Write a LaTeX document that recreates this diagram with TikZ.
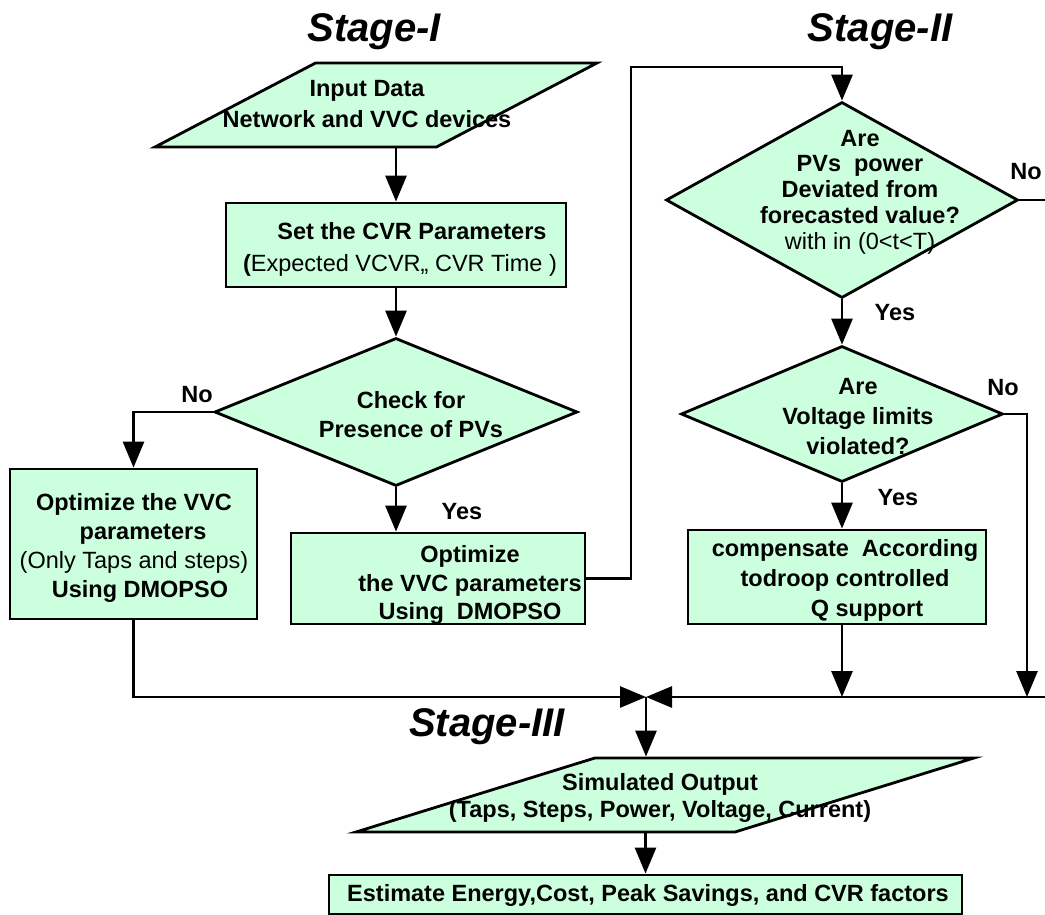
\documentclass[tikz,border=0pt]{standalone}
\usepackage{fontspec}
\setmainfont{Liberation Sans}
\usetikzlibrary{shapes.geometric,arrows.meta}
\definecolor{mint}{RGB}{204,255,222}
\begin{document}
\begin{tikzpicture}[x=1pt,y=-1pt,
    blk/.style={draw,line width=2.8pt,fill=mint,inner sep=0pt},
    dec/.style={diamond,draw,line width=2.8pt,fill=mint,inner sep=0pt},
    io/.style={trapezium,trapezium stretches=true,draw,line width=2.8pt,fill=mint,inner sep=2pt},
    txt/.style={align=center,inner sep=0pt,font=\fontsize{23.5}{29}\selectfont\bfseries},
    lbl/.style={inner sep=0pt,font=\fontsize{23.5}{28}\selectfont\bfseries},
    stagetitle/.style={inner sep=0pt,font=\fontsize{40}{44}\selectfont\bfseries\itshape},
    ln/.style={line width=2.8pt},
    arr/.style={line width=2.8pt,-{Triangle[length=26pt,width=21pt]}}]
    \useasboundingbox (0,0) rectangle (1045,915);

    % Stage I
    \node[stagetitle] (stgone) at (374,32) {Stage-I};
    \node[io, minimum width=442, minimum height=84, trapezium left angle=37, trapezium right angle=143] (input) at (376,105) {};
    \node[txt, font=\fontsize{23.5}{31}\selectfont\bfseries] (inputtxt) at (367,104) {Input Data\\Network and VVC devices};
    \node[blk, minimum width=340, minimum height=84] (setcvr) at (396,245) {};
    \node[txt, font=\fontsize{23.5}{32}\selectfont\bfseries] (setcvrtxt) at (400,249) {\hspace*{24pt}Set the CVR Parameters\\{\mdseries\textbf{(}Expected VCVR,, CVR Time )}};
    \node[dec, minimum width=363, minimum height=148] (chkpv) at (396,412) {};
    \node[txt] (chkpvtxt) at (411,415) {Check for\\Presence of PVs};
    \node[lbl] (chkno) at (197,395) {No};
    \node[lbl] (chkyes) at (462,512) {Yes};
    \node[blk, minimum width=247, minimum height=150] (optleft) at (133.5,544) {};
    \node[txt] (optlefttxt) at (134,548) {Optimize the VVC\\\hspace*{18pt}parameters\\{\mdseries (Only Taps and steps)}\\\hspace*{12pt}Using DMOPSO};
    \node[blk, minimum width=294, minimum height=91] (optmid) at (438,578.5) {};
    \node[txt, font=\fontsize{23.5}{28.5}\selectfont\bfseries] (optmidtxt) at (470,585) {Optimize\\the VVC parameters\\Using\ \ DMOPSO};

    % Stage II
    \node[stagetitle] (stgtwo) at (880,32) {Stage-II};
    \coordinate (loopup) at (631,67);
    \node[dec, minimum width=352, minimum height=196] (pvdev) at (842,200) {};
    \node[txt, font=\fontsize{23.5}{25.8}\selectfont\bfseries] (pvdevtxt) at (860,192) {Are\\PVs\ \ power\\Deviated from\\forecasted value?\\{\mdseries with in (0<t<T)}};
    \node[lbl] (pvno) at (1026,172) {No};
    \node[lbl] (pvyes) at (895,313) {Yes};
    \node[dec, minimum width=322, minimum height=136] (vlim) at (842,414) {};
    \node[txt, font=\fontsize{23.5}{30}\selectfont\bfseries] (vlimtxt) at (858,417) {Are\\Voltage limits\\violated?};
    \node[lbl] (vlimno) at (1003,388) {No};
    \node[lbl] (vlimyes) at (898,498) {Yes};
    \node[blk, minimum width=298, minimum height=94] (comp) at (837,577) {};
    \node[txt, font=\fontsize{23.5}{30}\selectfont\bfseries] (comptxt) at (845,580) {compensate\ \ According\\todroop controlled\\\hspace*{44pt}Q support};

    % Stage III
    \coordinate (merge) at (646,697);
    \coordinate (rightrim) at (1047,697);
    \coordinate (vdrop) at (1027,697);
    \node[stagetitle] (stgthree) at (487,727) {Stage-III};
    \node[io, minimum width=618, minimum height=74, trapezium left angle=30.4, trapezium right angle=149.6] (simout) at (665,795) {};
    \node[txt, font=\fontsize{23.5}{27}\selectfont\bfseries] (simouttxt) at (660,798) {Simulated Output\\(Taps, Steps, Power, Voltage, Current)};
    \node[blk, minimum width=633, minimum height=39] (est) at (645.5,894.5) {};
    \node[txt] (esttxt) at (648,895) {Estimate Energy,Cost, Peak Savings, and CVR factors};

    % connectors
    \draw[arr] (setcvr.north |- input.south) -- (setcvr.north);
    \draw[arr] (setcvr.south) -- (chkpv.north);
    \draw[arr] (chkpv.west) -| (optleft.north);
    \draw[arr] (chkpv.south) -- (chkpv.south |- optmid.north);
    \draw[arr] (optmid.east) -| (loopup) -| (pvdev.north);
    \draw[arr] (pvdev.south) -- (vlim.north);
    \draw[ln] (pvdev.east) -- (pvdev.east -| rightrim);
    \draw[arr] (vlim.east) -| (vdrop);
    \draw[arr] (vlim.south) -- (vlim.south |- comp.north);
    \draw[arr] (comp.south -| vlim.south) -- (vlim.south |- merge);
    \draw[arr] (optleft.south) |- (merge);
    \draw[arr] (rightrim) -- (merge);
    \draw[arr] (merge) -- (merge |- simout.north);
    \draw[arr] (simout.south -| est.north) -- (est.north);
\end{tikzpicture}
\end{document}
